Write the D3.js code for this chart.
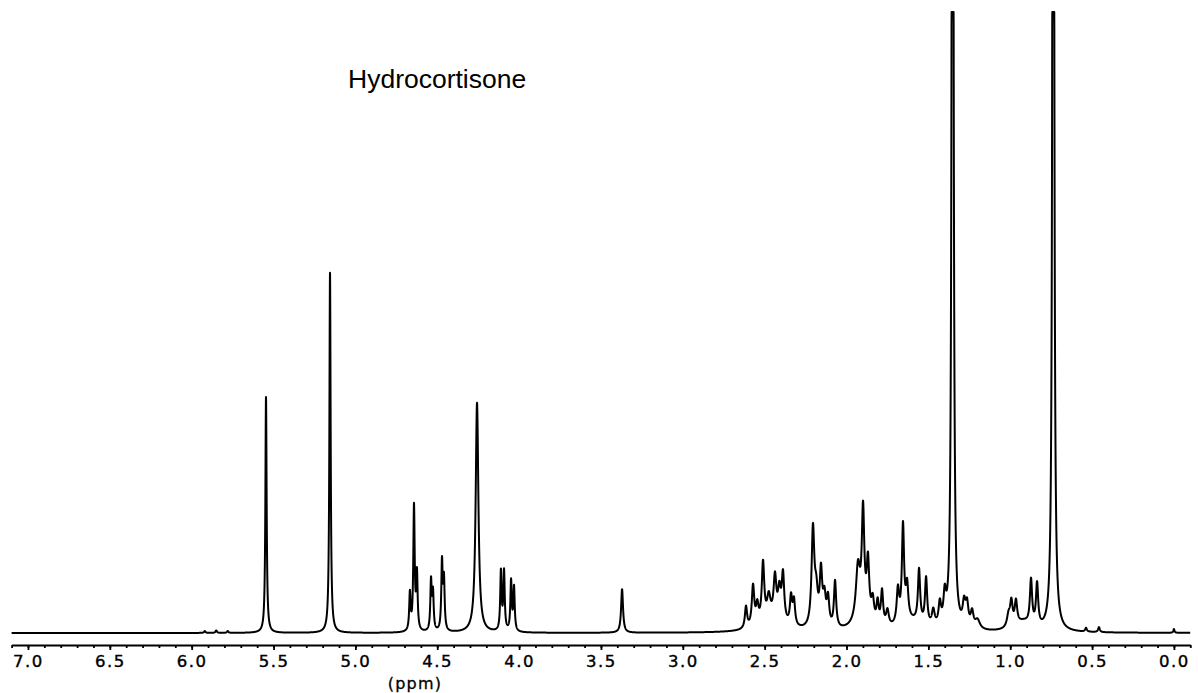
<!DOCTYPE html>
<html>
<head>
<meta charset="utf-8">
<script src="https://cdn.jsdelivr.net/npm/d3@7"></script>
<style>
  html, body { margin: 0; padding: 0; background: #fff; }
  svg { display: block; }
  .tick text { font-family: "DejaVu Sans", sans-serif; }
</style>
</head>
<body>
<svg id="chart" width="1198" height="693"></svg>
<script>
// ---- data ----
const title = "Hydrocortisone";
const axisLabel = "(ppm)";
// axis range (ppm)
const ppmMax = 7.1, ppmMin = -0.1;
// major tick labels
const majorTicks = [7.0, 6.5, 6.0, 5.5, 5.0, 4.5, 4.0, 3.5, 3.0, 2.5, 2.0, 1.5, 1.0, 0.5, 0.0];
// spectral lines: chemical shift (ppm), intensity (plot top = 100), half-width (ppm)
const peakPpm = [
  5.546, 5.155,
  4.667, 4.642, 4.624, 4.538, 4.526, 4.471, 4.459,
  4.257,
  4.111, 4.092, 4.049, 4.031,
  3.371,
  2.614, 2.571, 2.545, 2.510, 2.475, 2.437, 2.410, 2.388, 2.339, 2.321,
  2.205, 2.185, 2.156, 2.135, 2.113, 2.070,
  1.930, 1.899, 1.869, 1.840, 1.810, 1.783, 1.750,
  1.686, 1.655, 1.630, 1.557, 1.514, 1.470, 1.430, 1.400,
  1.352,
  1.282, 1.264, 1.233, 1.200,
  1.010, 0.993, 0.965, 0.873, 0.836,
  0.737,
  0.537, 0.458, 0.000,
  5.92, 5.85, 5.78,
  2.45, 1.90, 1.60, 0.92
];
const peakHeight = [
  38, 58,
  6, 20, 9, 8, 6, 11, 8,
  37,
  9.5, 9.5, 8, 7,
  7,
  3.5, 6.5, 3, 9.5, 3.5, 6.5, 4.5, 7.5, 4.5, 4,
  15.5, 5, 8.5, 4.5, 4.5, 7.5,
  8.5, 16.5, 9, 3.5, 3.5, 5.5, 2.5,
  5.5, 15.5, 5.5, 8.5, 7.5, 2.5, 3.5, 4.5,
  300,
  3.5, 3.5, 2.5, 1.5,
  2, 3.8, 3.8, 7.2, 6.8,
  300,
  0.6, 0.8, 0.6,
  0.3, 0.4, 0.3,
  2, 2, 1.5, 1.5
];
const peakWidth = [
  0.0045, 0.0045,
  0.005, 0.005, 0.005, 0.005, 0.005, 0.005, 0.005,
  0.010,
  0.005, 0.005, 0.005, 0.005,
  0.007,
  0.008, 0.009, 0.009, 0.009, 0.012, 0.010, 0.010, 0.009, 0.008, 0.008,
  0.010, 0.012, 0.009, 0.010, 0.009, 0.008,
  0.015, 0.009, 0.009, 0.010, 0.008, 0.008, 0.010,
  0.009, 0.008, 0.009, 0.008, 0.008, 0.010, 0.009, 0.009,
  0.0045,
  0.010, 0.010, 0.010, 0.018,
  0.012, 0.009, 0.009, 0.008, 0.008,
  0.0045,
  0.006, 0.006, 0.004,
  0.005, 0.005, 0.005,
  0.08, 0.05, 0.08, 0.06
];

// ---- drawing ----
const svg = d3.select("#chart");
const x = d3.scaleLinear().domain([ppmMax, ppmMin]).range([11.6, 1190.3]);
const y = d3.scaleLinear().domain([0, 100]).range([633, 12]).clamp(true);

// line shape built from the listed lines (Lorentzian)
const pts = d3.range(ppmMax, ppmMin, -0.0005).concat(peakPpm).sort((a, b) => b - a);
const spectrum = pts.map(p => {
  let s = 0;
  for (let i = 0; i < peakPpm.length; i++) {
    const d = p - peakPpm[i], g = peakWidth[i];
    s += peakHeight[i] * g * g / (d * d + g * g);
  }
  return [p, s];
});

svg.append("path")
  .datum(spectrum)
  .attr("fill", "none")
  .attr("stroke", "#000")
  .attr("stroke-width", 2)
  .attr("stroke-linejoin", "round")
  .attr("d", d3.line().x(d => x(d[0])).y(d => y(d[1])));

// axis: minor ticks every 0.1 ppm
const minorTicks = d3.range(71, -2, -1).map(v => v / 10);
const axisY = 645;
svg.append("g")
  .attr("transform", `translate(0,${axisY})`)
  .call(d3.axisBottom(x).tickValues(minorTicks).tickSize(3).tickSizeOuter(0).tickFormat(""))
  .call(g => g.selectAll("path,line").attr("stroke", "#000").attr("stroke-width", 1.8));

svg.append("g")
  .attr("transform", `translate(0,${axisY})`)
  .call(d3.axisBottom(x).tickValues(majorTicks).tickSize(5).tickSizeOuter(0).tickPadding(5).tickFormat(d3.format(".1f")))
  .call(g => g.select(".domain").remove())
  .call(g => g.selectAll("line").attr("stroke", "#000").attr("stroke-width", 1.8))
  .call(g => g.selectAll("text").attr("fill", "#000").attr("font-size", 16.5)
    .attr("letter-spacing", 1.5).attr("stroke", "#000").attr("stroke-width", 0.4));

svg.append("text")
  .attr("x", 415).attr("y", 689)
  .attr("text-anchor", "middle")
  .attr("font-family", "DejaVu Sans, sans-serif")
  .attr("font-size", 16)
  .attr("letter-spacing", 1.2)
  .attr("stroke", "#000").attr("stroke-width", 0.3)
  .text(axisLabel);

svg.append("text")
  .attr("x", 348).attr("y", 88)
  .attr("font-family", "Liberation Sans, Arial, sans-serif")
  .attr("font-size", 26.5)
  .text(title);
</script>
</body>
</html>
